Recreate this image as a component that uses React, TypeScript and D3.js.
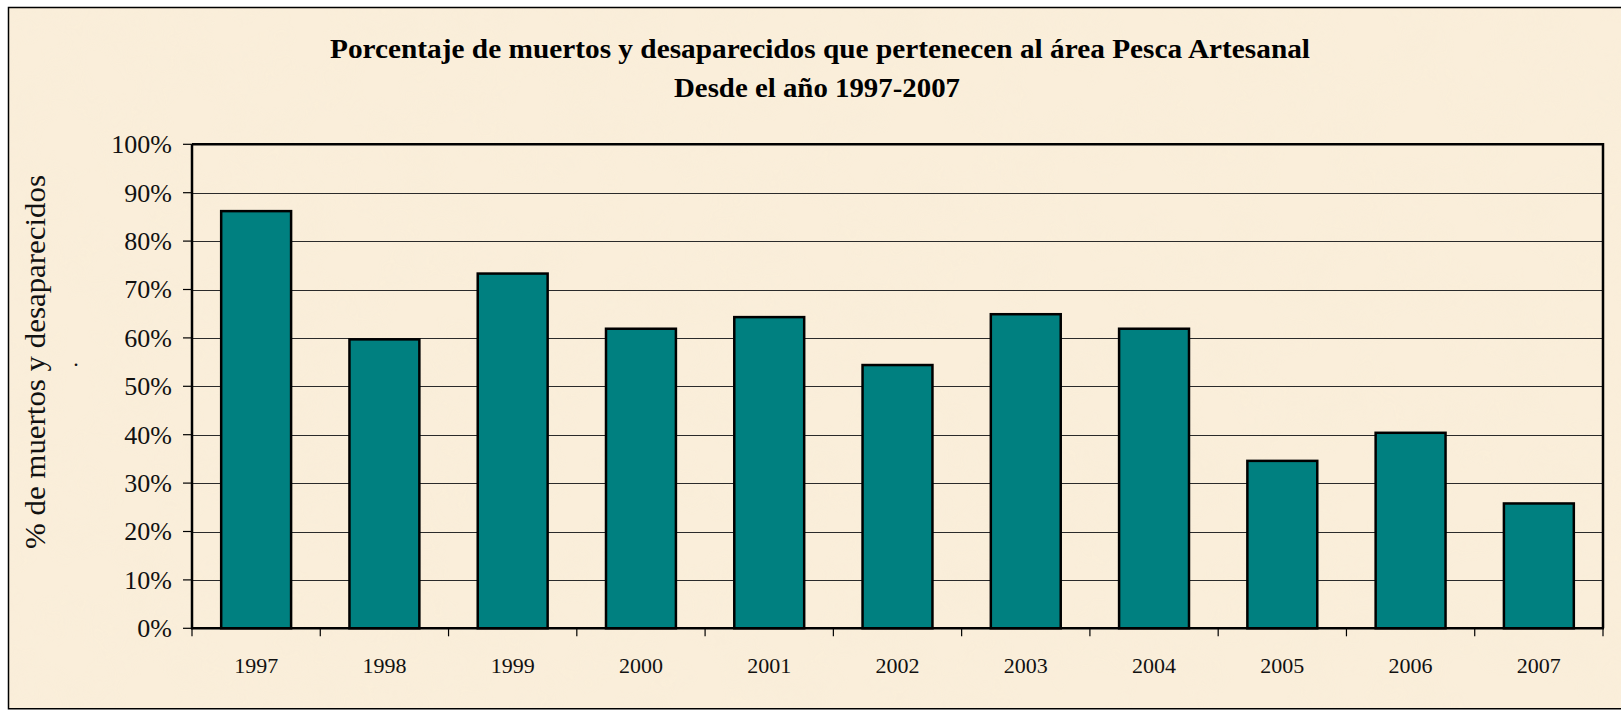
import React from "react";
import * as d3 from "d3";

const years = ["1997", "1998", "1999", "2000", "2001", "2002", "2003", "2004", "2005", "2006", "2007"];
const percentages = [86.4, 59.9, 73.5, 62.1, 64.5, 54.6, 65.1, 62.1, 34.8, 40.6, 26.0];
const yTicks = [0, 10, 20, 30, 40, 50, 60, 70, 80, 90, 100];
const titleLines = [
  "Porcentaje de muertos y desaparecidos que pertenecen al área Pesca Artesanal",
  "Desde el año 1997-2007",
];
const yAxisTitle = "% de muertos y desaparecidos";

const W = 1621;
const H = 711;
const plot = { left: 192, right: 1603, top: 144.3, bottom: 628.3 };
const FONT = "'Liberation Serif', 'Times New Roman', serif";

export default function App() {
  const x = d3
    .scaleBand<string>()
    .domain(years)
    .range([plot.left, plot.right])
    .paddingInner(0.455)
    .paddingOuter(0.2275);
  const xStep = d3.scaleBand<string>().domain(years).range([plot.left, plot.right]);
  const y = d3.scaleLinear().domain([0, 100]).range([plot.bottom, plot.top]);

  return (
    <div style={{ position: "absolute", left: 0, top: 0, width: W, height: H }}>
      <svg width={W} height={H} style={{ display: "block" }}>
        <defs>
          <filter id="paper" x="0" y="0" width="100%" height="100%">
            <feTurbulence type="fractalNoise" baseFrequency="0.018" numOctaves="3" seed="7" />
            <feColorMatrix
              type="matrix"
              values="0 0 0 0 0.93  0 0 0 0 0.84  0 0 0 0 0.68  0.7 0 0 0 -0.28"
            />
          </filter>
        </defs>
        <rect x={0} y={0} width={W} height={H} fill="#ffffff" />
        <rect x={8} y={7} width={W} height={702} fill="#FAEEDA" />
        <rect x={8} y={7} width={W} height={702} filter="url(#paper)" opacity={0.8} />
        {/* outer border (left, top, bottom) */}
        <path d={`M${W + 5},7.5 H8.5 V708.8 H${W + 5}`} fill="none" stroke="#000" strokeWidth={1.5} />

        {/* title */}
        <text
          x={820}
          y={58}
          textAnchor="middle"
          fontFamily={FONT}
          fontWeight="bold"
          fontSize={28}
          textLength={980}
          lengthAdjust="spacingAndGlyphs"
          fill="#000"
        >
          {titleLines[0]}
        </text>
        <text
          x={817}
          y={97}
          textAnchor="middle"
          fontFamily={FONT}
          fontWeight="bold"
          fontSize={28}
          textLength={286}
          lengthAdjust="spacingAndGlyphs"
          fill="#000"
        >
          {titleLines[1]}
        </text>

        {/* y axis title */}
        <text
          transform={`translate(45,362) rotate(-90)`}
          textAnchor="middle"
          fontFamily={FONT}
          fontSize={29}
          textLength={374}
          lengthAdjust="spacingAndGlyphs"
          fill="#111"
        >
          {yAxisTitle}
        </text>
        <text x={76} y={366} textAnchor="middle" fontFamily={FONT} fontSize={22} fill="#111">
          .
        </text>

        {/* gridlines */}
        {yTicks
          .filter((t) => t > 0 && t < 100)
          .map((t) => (
            <line
              key={"g" + t}
              x1={plot.left}
              x2={plot.right}
              y1={Math.round(y(t)) + 0.5}
              y2={Math.round(y(t)) + 0.5}
              stroke="#2a2a2a"
              strokeWidth={1}
            />
          ))}

        {/* bars */}
        {years.map((yr, i) => (
          <rect
            key={yr}
            x={x(yr)}
            y={y(percentages[i]) + 1}
            width={x.bandwidth()}
            height={plot.bottom - y(percentages[i]) - 1}
            fill="#008080"
            stroke="#000"
            strokeWidth={2.5}
          />
        ))}

        {/* plot border top/right */}
        <path
          d={`M${plot.left},${plot.top} H${plot.right} V${plot.bottom}`}
          fill="none"
          stroke="#000"
          strokeWidth={2.5}
        />
        {/* axes */}
        <line x1={plot.left} x2={plot.left} y1={plot.top} y2={plot.bottom + 1} stroke="#000" strokeWidth={2.5} />
        <line x1={plot.left - 1} x2={plot.right + 1} y1={plot.bottom} y2={plot.bottom} stroke="#000" strokeWidth={2.5} />

        {/* y ticks and labels */}
        {yTicks.map((t) => (
          <g key={"t" + t}>
            <line x1={183} x2={plot.left} y1={y(t)} y2={y(t)} stroke="#000" strokeWidth={1.2} />
            <text
              x={172}
              y={y(t)}
              dy="0.34em"
              textAnchor="end"
              fontFamily={FONT}
              fontSize={26}
              fill="#111"
            >
              {t + "%"}
            </text>
          </g>
        ))}

        {/* x ticks at category boundaries */}
        {[...years.map((yr) => xStep(yr) as number), plot.right].map((bx, i) => (
          <line key={"xt" + i} x1={bx} x2={bx} y1={plot.bottom} y2={plot.bottom + 8} stroke="#000" strokeWidth={1.2} />
        ))}

        {/* x labels */}
        {years.map((yr) => (
          <text
            key={"xl" + yr}
            x={(xStep(yr) as number) + xStep.bandwidth() / 2}
            y={672.5}
            textAnchor="middle"
            fontFamily={FONT}
            fontSize={22}
            fill="#111"
          >
            {yr}
          </text>
        ))}
      </svg>
    </div>
  );
}
